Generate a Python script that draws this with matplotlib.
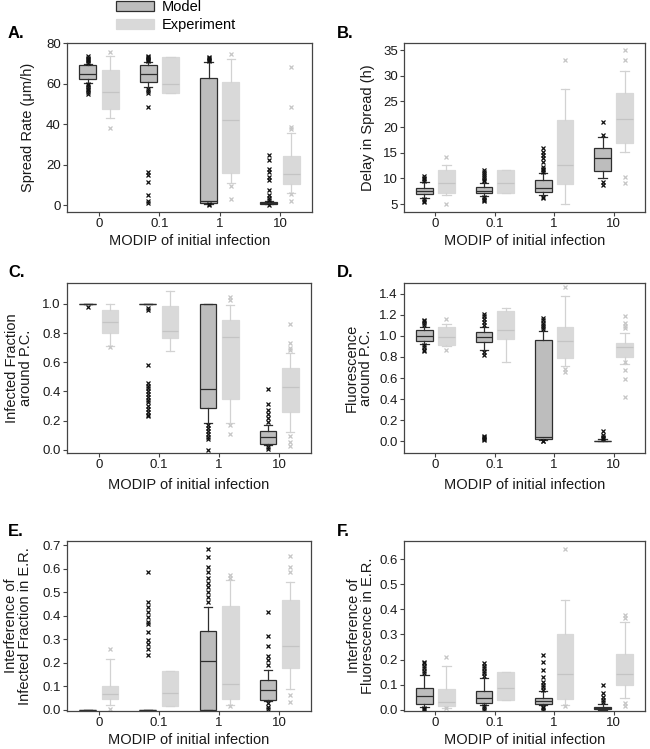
import matplotlib
matplotlib.use("Agg")
import matplotlib.pyplot as plt
from matplotlib.patches import Patch

plt.rcParams['font.family'] = ['Liberation Sans', 'DejaVu Sans']

groups = ['0', '0.1', '1', '10']

# each row: (whislo, q1, median, q3, whishi) per MODIP group
rate_model = [(60.6, 62.6, 64.8, 69.4, 70.0), (58.2, 61.1, 64.8, 69.4, 70.8),
              (0.8, 1.2, 2.2, 62.8, 70.8), (0.4, 0.6, 1.0, 1.3, 1.8)]
rate_model_out = [[70.5, 71.2, 71.8, 72.4, 73.0, 73.8, 60.0, 59.2, 58.4, 57.6, 56.8, 56.0, 55.2],
                  [71.3, 72.0, 72.5, 73.0, 73.5, 73.8, 57.4, 56.5, 55.7, 48.4, 16.4, 14.8, 11.5, 5.2, 2.0, 1.1],
                  [71.3, 71.8, 72.3, 72.8, 73.3, 0.5, 0.3],
                  [24.9, 22.5, 18.0, 16.4, 13.9, 12.3, 7.4, 5.2, 3.3, 2.5, 0.2]]
rate_exp = [(43.1, 47.5, 56.1, 66.9, 73.8), (55.3, 55.3, 59.8, 73.5, 73.5),
            (10.7, 15.9, 42.3, 61.0, 72.1), (6.0, 10.3, 15.6, 24.1, 35.7)]
rate_exp_out = [[75.7, 38.0], [], [74.6, 9.3, 3.0], [68.5, 48.7, 38.5, 37.5, 5.5, 2.0]]

delay_model = [(6.1, 6.95, 7.6, 8.2, 9.35), (6.55, 7.1, 7.6, 8.25, 9.15),
               (6.75, 7.4, 8.05, 9.6, 11.1), (10.1, 11.4, 13.9, 16.0, 18.0)]
delay_model_out = [[9.5, 9.8, 10.1, 10.5, 5.9, 5.6, 5.4],
                   [9.4, 9.7, 10.0, 10.4, 10.8, 11.2, 11.6, 6.3, 6.0, 5.7, 5.5],
                   [11.3, 11.6, 11.9, 12.3, 13.2, 13.9, 14.5, 15.2, 16.0, 6.4, 6.1],
                   [21.0, 18.5, 9.35, 8.8]]
delay_exp = [(6.75, 7.1, 9.1, 11.6, 12.6), (7.1, 7.1, 9.1, 11.55, 11.55),
             (5.1, 9.0, 12.6, 21.3, 27.5), (15.1, 17.0, 21.5, 26.6, 31.0)]
delay_exp_out = [[14.1, 5.1], [], [33.0], [35.0, 33.0, 10.2, 9.1]]

frac_model = [(1.0, 1.0, 1.0, 1.0, 1.0), (1.0, 1.0, 1.0, 1.0, 1.0),
              (0.183, 0.286, 0.414, 1.0, 1.0), (0.034, 0.039, 0.085, 0.126, 0.169)]
frac_model_out = [[0.98],
                  [0.973, 0.957, 0.584, 0.46, 0.44, 0.42, 0.40, 0.38, 0.36, 0.34, 0.33, 0.30, 0.28, 0.26, 0.24, 0.23],
                  [0.17, 0.15, 0.13, 0.11, 0.09, 0.07, 0.0],
                  [0.416, 0.316, 0.275, 0.247, 0.217, 0.19, 0.018, 0.005]]
frac_exp = [(0.714, 0.80, 0.874, 0.959, 1.0), (0.68, 0.764, 0.817, 0.986, 1.087),
            (0.183, 0.348, 0.771, 0.888, 0.993), (0.119, 0.261, 0.43, 0.563, 0.664)]
frac_exp_out = [[0.705], [], [1.05, 1.03, 0.17, 0.11], [0.863, 0.732, 0.70, 0.686, 0.096, 0.05, 0.023]]

fluo_model = [(0.923, 0.948, 1.002, 1.052, 1.084), (0.87, 0.942, 0.986, 1.037, 1.084),
              (0.016, 0.022, 0.041, 0.964, 1.043), (0.0, 0.001, 0.004, 0.008, 0.02)]
fluo_model_out = [[1.10, 1.12, 1.14, 1.15, 0.91, 0.89, 0.87, 0.86],
                  [1.10, 1.13, 1.16, 1.19, 1.21, 0.85, 0.82, 0.05, 0.04, 0.03, 0.02, 0.01],
                  [1.06, 1.08, 1.10, 1.12, 1.15, 1.17, 0.005, 0.0],
                  [0.095, 0.063, 0.045, 0.035, 0.025]]
fluo_exp = [(0.90, 0.91, 0.989, 1.084, 1.11), (0.755, 0.97, 1.052, 1.239, 1.264),
            (0.717, 0.79, 0.954, 1.084, 1.375), (0.736, 0.796, 0.891, 0.932, 1.027)]
fluo_exp_out = [[1.157, 0.87], [], [1.463, 0.686, 0.654],
                [1.19, 1.12, 1.097, 1.07, 0.749, 0.673, 0.591, 0.417]]

intf_model = [(0.0, 0.0, 0.0, 0.0, 0.0), (0.0, 0.0, 0.0, 0.0, 0.0),
              (0.0, 0.0, 0.206, 0.334, 0.437), (0.037, 0.04, 0.085, 0.125, 0.167)]
intf_model_out = [[],
                  [0.584, 0.459, 0.437, 0.416, 0.395, 0.374, 0.366, 0.331, 0.295, 0.278, 0.257, 0.232],
                  [0.686, 0.65, 0.608, 0.585, 0.56, 0.54, 0.52, 0.50, 0.48, 0.458],
                  [0.416, 0.312, 0.27, 0.227, 0.21, 0.189, 0.026, 0.013, 0.003]]
intf_exp = [(0.018, 0.043, 0.065, 0.102, 0.214), (0.016, 0.016, 0.07, 0.166, 0.166),
            (0.018, 0.043, 0.111, 0.44, 0.551), (0.086, 0.179, 0.271, 0.466, 0.544)]
intf_exp_out = [[0.256, 0.004], [], [0.572, 0.56, 0.014], [0.653, 0.608, 0.586, 0.061, 0.032]]

intfl_model = [(0.011, 0.021, 0.053, 0.088, 0.137), (0.02, 0.027, 0.046, 0.073, 0.126),
               (0.017, 0.024, 0.035, 0.048, 0.073), (0.0, 0.001, 0.005, 0.011, 0.024)]
intfl_model_out = [[0.145, 0.155, 0.165, 0.175, 0.185, 0.19, 0.008, 0.004, 0.0],
                   [0.135, 0.145, 0.155, 0.165, 0.175, 0.185, 0.015, 0.008, 0.0],
                   [0.22, 0.19, 0.157, 0.13, 0.11, 0.10, 0.09, 0.08, 0.012, 0.005, 0.0],
                   [0.097, 0.066, 0.05, 0.04, 0.03]]
intfl_exp = [(0.008, 0.015, 0.031, 0.084, 0.175), (0.037, 0.037, 0.088, 0.15, 0.15),
             (0.017, 0.044, 0.141, 0.3, 0.436), (0.046, 0.1, 0.143, 0.223, 0.349)]
intfl_exp_out = [[0.212, 0.008], [], [0.641, 0.013], [0.376, 0.365, 0.027, 0.016]]

W, H = 650, 749
fig = plt.figure(figsize=(W / 100, H / 100), dpi=100)


def make_stats(summary, outliers):
    out = []
    for (lo, q1, med, q3, hi), fl in zip(summary, outliers):
        out.append(dict(whislo=lo, q1=q1, med=med, q3=q3, whishi=hi, fliers=fl))
    return out


def panel(rect, letter, model, model_out, exp, exp_out, ylim, yticks, fmt,
          ylabel, ylab_x, xlab_gap):
    l, t, r, b = rect
    ax = fig.add_axes([l / W, 1 - b / H, (r - l) / W, (b - t) / H])
    pos = range(len(groups))
    ax.bxp(make_stats(model, model_out), positions=[p - 0.185 for p in pos],
           widths=0.28, patch_artist=True, capwidths=0.14,
           boxprops=dict(facecolor='#bdbdbd', edgecolor='#2e2e2e', lw=0.9),
           medianprops=dict(color='#2e2e2e', lw=0.9),
           whiskerprops=dict(color='#2e2e2e', lw=0.9),
           capprops=dict(color='#2e2e2e', lw=0.9),
           flierprops=dict(marker='x', markeredgecolor='#111111', markersize=3,
                           mew=0.9))
    ax.bxp(make_stats(exp, exp_out), positions=[p + 0.185 for p in pos],
           widths=0.28, patch_artist=True, capwidths=0.14,
           boxprops=dict(facecolor='#d9d9d9', edgecolor='#d9d9d9', lw=0.9),
           medianprops=dict(color='#c4c4c4', lw=0.9),
           whiskerprops=dict(color='#d2d2d2', lw=0.9),
           capprops=dict(color='#d2d2d2', lw=0.9),
           flierprops=dict(marker='x', markeredgecolor='#c6c6c6', markersize=3,
                           mew=0.9))
    ax.set_xlim(-0.53, 3.53)
    ax.set_xticks(list(pos))
    ax.set_xticklabels(groups)
    ax.set_ylim(*ylim)
    ax.set_yticks(yticks)
    ax.set_yticklabels([fmt.format(v) for v in yticks])
    ax.tick_params(labelsize=9.5, length=3, width=0.8, color='#444444',
                   labelcolor='#1a1a1a', pad=1.5)
    for s in ax.spines.values():
        s.set_color('#444444')
        s.set_linewidth(0.9)
    ax.set_xlabel('MODIP of initial infection', fontsize=10.5, color='#1a1a1a')
    ax.xaxis.set_label_coords(0.5, -xlab_gap / (b - t))
    ax.set_ylabel(ylabel, fontsize=10.5, color='#1a1a1a', linespacing=1.0)
    ax.yaxis.set_label_coords(ylab_x, 0.5)
    fig.text((l - 59) / W if l < 200 else (l - 67) / W, 1 - (t - 10) / H, letter,
             fontsize=12, fontweight='bold', va='center', ha='left')
    return ax


panel((67, 43, 312, 212), 'A.', rate_model, rate_model_out, rate_exp, rate_exp_out,
      (-3.4, 80.2), [0, 20, 40, 60, 80], '{:.0f}', 'Spread Rate (\u03bcm/h)', -0.13, 22)
panel((404, 43, 645, 212), 'B.', delay_model, delay_model_out, delay_exp, delay_exp_out,
      (3.45, 36.4), [5, 10, 15, 20, 25, 30, 35], '{:.0f}', 'Delay in Spread (h)', -0.12, 22)
panel((67, 283, 311, 453), 'C.', frac_model, frac_model_out, frac_exp, frac_exp_out,
      (-0.023, 1.144), [0, 0.2, 0.4, 0.6, 0.8, 1.0], '{:.1f}',
      'Infected Fraction\naround P.C.', -0.14, 25)
panel((404, 283, 645, 453), 'D.', fluo_model, fluo_model_out, fluo_exp, fluo_exp_out,
      (-0.11, 1.50), [0, 0.2, 0.4, 0.6, 0.8, 1.0, 1.2, 1.4], '{:.1f}',
      'Fluorescence\naround P.C.', -0.13, 25)
panel((67, 541, 311, 711), 'E.', intf_model, intf_model_out, intf_exp, intf_exp_out,
      (-0.006, 0.718), [0, 0.1, 0.2, 0.3, 0.4, 0.5, 0.6, 0.7], '{:.1f}',
      'Interference of\nInfected Fraction in E.R.', -0.145, 22)
panel((404, 541, 645, 711), 'F.', intfl_model, intfl_model_out, intfl_exp, intfl_exp_out,
      (-0.005, 0.672), [0, 0.1, 0.2, 0.3, 0.4, 0.5, 0.6], '{:.1f}',
      'Interference of\nFluorescence in E.R.', -0.12, 22)

handles = [Patch(facecolor='#bdbdbd', edgecolor='#2e2e2e', lw=0.9),
           Patch(facecolor='#d9d9d9', edgecolor='#d9d9d9', lw=0.9)]
fig.legend(handles, ['Model', 'Experiment'], loc='upper left',
           bbox_to_anchor=(116 / W, 1.0), frameon=False, fontsize=10.5,
           handlelength=2.6, handleheight=0.7, handletextpad=0.55,
           labelspacing=0.3, borderpad=0.0, borderaxespad=0.0)

fig.savefig('out.png', dpi=100)
